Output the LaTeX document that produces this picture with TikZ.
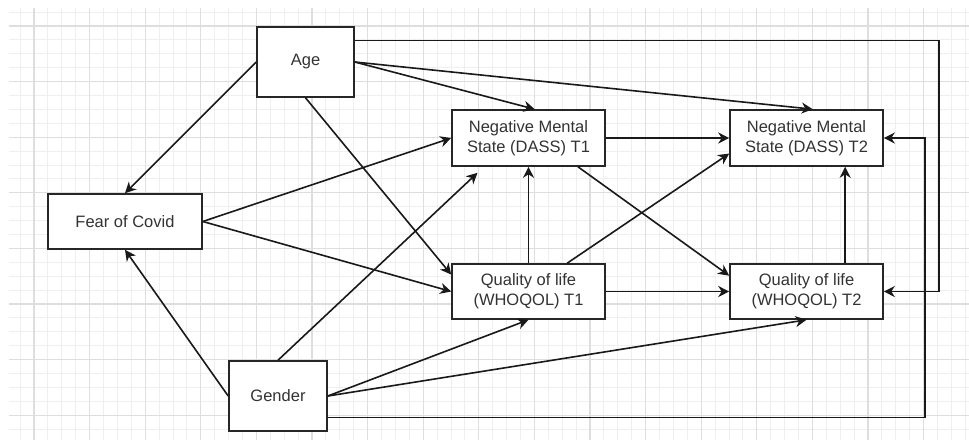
\documentclass[tikz,border=0pt]{standalone}
\usepackage{fontspec}
\setmainfont{Liberation Sans}
\usetikzlibrary{arrows.meta,calc}
\definecolor{minorgrid}{HTML}{EFEFEF}
\definecolor{majorgrid}{HTML}{DEDEDE}
\definecolor{boxtext}{HTML}{333333}
\tikzset{
  box/.style={draw=black!85, line width=1.6pt, fill=white, inner sep=0pt, align=center,
    font=\fontsize{16.5}{20}\selectfont, text=boxtext},
  conn/.style={line width=1.6pt, draw=black!90, -{Stealth[length=11pt,width=11pt,inset=3.5pt]}},
  minorline/.style={draw=minorgrid, line width=0.9pt},
  majorline/.style={draw=majorgrid, line width=1.1pt}
}
\begin{document}
\begin{tikzpicture}[x=1pt,y=-1pt]
\useasboundingbox (0,0) rectangle (969,440);
\fill[white] (0,0) rectangle (969,440);
% grid
\foreach \k in {-1,...,67} {
  \pgfmathsetmacro\xx{34+13.9*\k}
  \draw[minorline] (\xx,8) -- (\xx,440);
}
\foreach \k in {-1,...,29} {
  \pgfmathsetmacro\yy{26+13.9*\k}
  \draw[minorline] (9,\yy) -- (969,\yy);
}
\foreach \k in {0,...,16} {
  \pgfmathsetmacro\xx{34+55.6*\k}
  \draw[majorline] (\xx,8) -- (\xx,440);
}
\foreach \k in {0,...,7} {
  \pgfmathsetmacro\yy{26+55.6*\k}
  \draw[majorline] (9,\yy) -- (969,\yy);
}
% nodes
\node[box, minimum width=97pt, minimum height=70pt] (age) at (305.5,62) {Age};
\node[box, minimum width=154pt, minimum height=55pt] (fear) at (125,221.5) {Fear of Covid};
\node[box, minimum width=98pt, minimum height=70pt] (gender) at (278,396) {Gender};
\node[box, minimum width=153pt, minimum height=56pt] (nms1) at (528.5,138) {Negative Mental\\State (DASS) T1};
\node[box, minimum width=153pt, minimum height=56pt] (nms2) at (806.5,138) {Negative Mental\\State (DASS) T2};
\node[box, minimum width=153pt, minimum height=55pt] (qol1) at (528.5,291.5) {Quality of life\\(WHOQOL) T1};
\node[box, minimum width=153pt, minimum height=55pt] (qol2) at (806.5,291.5) {Quality of life\\(WHOQOL) T2};
% connectors
\draw[conn] (age.west) -- (fear.north);
\draw[conn] (gender.west) -- (fear.south);
\draw[conn] (age.east) -- ($(nms1.north west)!0.54!(nms1.north east)$);
\draw[conn] (age.east) -- ($(nms2.north west)!0.54!(nms2.north east)$);
\draw[conn] ($(age.north east)!0.2!(age.south east)$) -| ([xshift=55pt]qol2.east) -- (qol2.east);
\draw[conn] ($(gender.north east)!0.8!(gender.south east)$) -| ([xshift=41pt]nms2.east) -- (nms2.east);
\draw[conn] (age.south) -- ($(qol1.north west)!0.2!(qol1.south west)$);
\draw[conn] (fear.east) -- (nms1.west);
\draw[conn] (fear.east) -- (qol1.west);
\draw[conn] (gender.north) -- ([yshift=-6pt]$(nms1.south west)!0.17!(nms1.south east)$);
\draw[conn] (gender.east) -- (qol1.south);
\draw[conn] (gender.east) -- (qol2.south);
\draw[conn] (qol1.north) -- (nms1.south);
\draw[conn] (nms1.east) -- (nms2.west);
\draw[conn] (qol1.east) -- (qol2.west);
\draw[conn] ($(nms1.south west)!0.82!(nms1.south east)$) -- ($(qol2.north west)!0.22!(qol2.south west)$);
\draw[conn] ($(qol1.north west)!0.75!(qol1.north east)$) -- ($(nms2.north west)!0.77!(nms2.south west)$);
\draw[conn] ($(qol2.north west)!0.75!(qol2.north east)$) -- ($(nms2.south west)!0.75!(nms2.south east)$);
\end{tikzpicture}
\end{document}
